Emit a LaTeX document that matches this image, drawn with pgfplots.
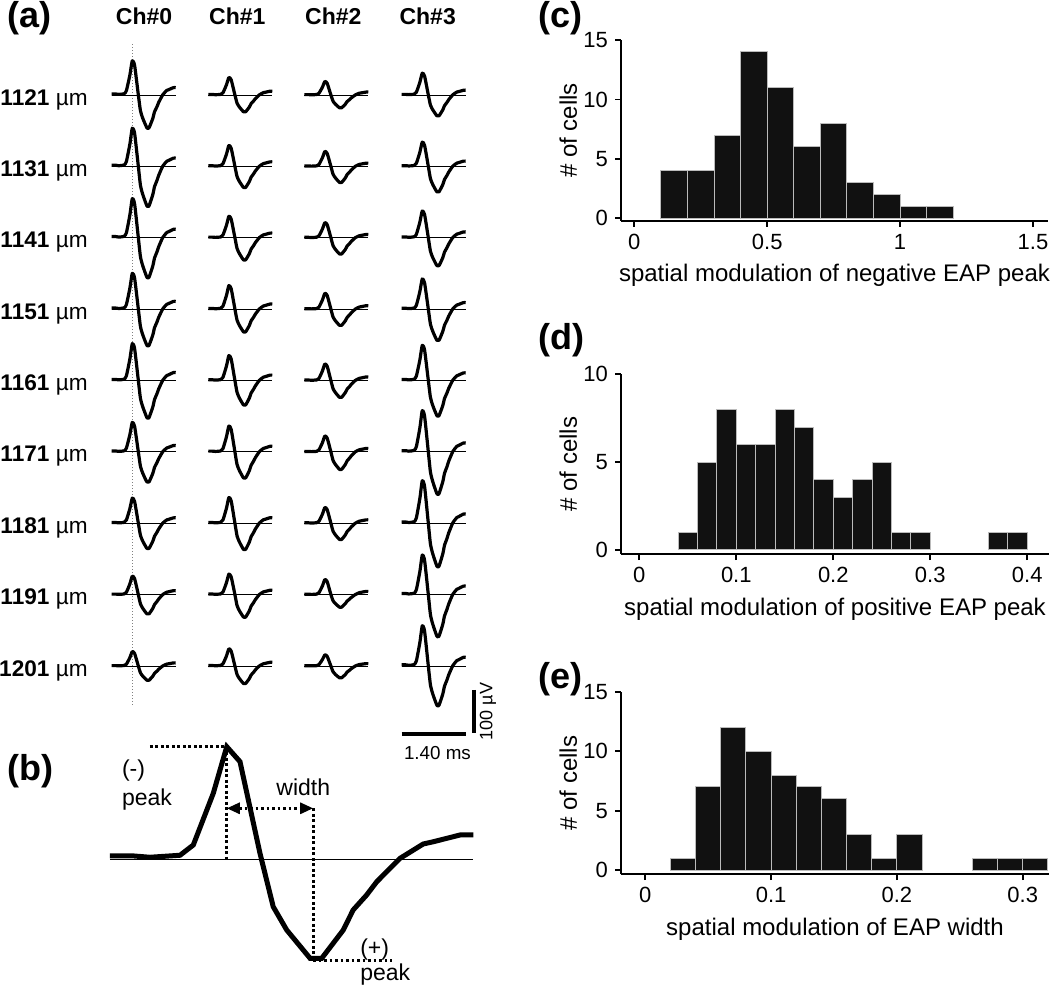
\documentclass[border=0pt]{standalone}
\usepackage{fontspec}
\setmainfont{Liberation Sans}
\usepackage{pgfplots}
\usepackage{pgfplotstable}
\pgfplotsset{compat=1.18}
\usetikzlibrary{arrows.meta}

\definecolor{barfill}{HTML}{111111}
\definecolor{baredge}{HTML}{BBBBBB}

% template spike (panel b), t in ms, v normalised to the (-) peak
\pgfplotstableread{
t v
0 0.03
0.09 0.03
0.154 0.018
0.27 0.036
0.321 0.127
0.398 0.586
0.45 1.0
0.501 0.867
0.578 0.053
0.629 -0.421
0.681 -0.628
0.771 -0.879
0.816 -0.879
0.899 -0.628
0.937 -0.45
0.989 -0.317
1.028 -0.199
1.118 0.009
1.207 0.136
1.246 0.156
1.349 0.216
1.4 0.216
}\wavetab

\pgfplotsset{
  wave/.style={black, line width=1.6pt, line join=round, no markers, smooth, tension=0.35},
  hist/.style={
    scale only axis, anchor=south west, clip=false,
    axis x line*=bottom, axis y line*=left,
    axis line style={line width=0.9pt},
    tick align=outside, major tick length=3pt,
    every tick/.style={black, line width=0.9pt},
    tick label style={font=\fontsize{11}{13}\selectfont},
    label style={font=\fontsize{12}{14}\selectfont},
    /pgf/number format/assume math mode=true,
    xlabel style={at={(axis description cs:0.5,0)}, anchor=base, yshift=-30.5pt},
    ylabel style={at={([xshift=-26.3pt]axis description cs:0,0.5)}, anchor=center},
  },
  bars/.style={ybar, bar shift=0pt, fill=barfill, draw=baredge, line width=0.5pt},
}

% one trace: time offset, baseline, (-) peak, (+) peak  [uV]
\newcommand{\cell}[4]{%
  \draw[line width=0.5pt] (axis cs:#1,#2) -- (axis cs:{#1+1.4},#2);
  \addplot[wave] table[x expr={\thisrow{t}+#1},
    y expr={#2+(\thisrow{v}>0 ? \thisrow{v}*#3 : \thisrow{v}*#4/0.879)}] {\wavetab};
}
\newcommand{\pl}{\fontsize{18}{20}\selectfont\bfseries}
\newcommand{\rl}{\fontsize{11.3}{13}\selectfont}
\newcommand{\bl}{\fontsize{11.5}{13}\selectfont}

\begin{document}
\begin{tikzpicture}
\useasboundingbox (0,0) rectangle (525pt,493.5pt);

% ---------- (a) ----------
\begin{axis}[at={(50pt,123.5pt)}, anchor=south west, scale only axis,
  width=200pt, height=355pt, xmin=-0.256, xmax=8.495, ymin=-1500, ymax=151.2,
  hide axis, clip=false]
\draw[gray, line width=0.5pt, densely dotted] (axis cs:0.459,118.6) -- (axis cs:0.459,-1418.6);
\cell{0}{0}{79.5}{76.3}     \cell{2.113}{0}{40.7}{39.1}    \cell{4.213}{0}{31.4}{29.8}    \cell{6.344}{0}{50.7}{48.4}
\cell{0}{-166}{88.8}{91.9}  \cell{2.113}{-166}{48.6}{49.1} \cell{4.213}{-166}{34.7}{37.4} \cell{6.344}{-166}{56.3}{59.3}
\cell{0}{-332}{90.9}{91.9}  \cell{2.113}{-332}{50}{51.6}   \cell{4.213}{-332}{35.1}{37.7} \cell{6.344}{-332}{62.3}{64.9}
\cell{0}{-498}{83.3}{84.2}  \cell{2.113}{-498}{54.7}{53}   \cell{4.213}{-498}{36.7}{37.7} \cell{6.344}{-498}{70.2}{72.6}
\cell{0}{-664}{85.8}{86.3}  \cell{2.113}{-664}{57.9}{57}   \cell{4.213}{-664}{38.4}{39.1} \cell{6.344}{-664}{81.9}{81.6}
\cell{0}{-830}{68.6}{70}    \cell{2.113}{-830}{60.2}{60.7} \cell{4.213}{-830}{37}{40.7}   \cell{6.344}{-830}{95.8}{97.2}
\cell{0}{-996}{58.4}{58.6}  \cell{2.113}{-996}{60}{60.9}   \cell{4.213}{-996}{36.7}{37.7} \cell{6.344}{-996}{98.8}{99.8}
\cell{0}{-1162}{43}{44.7}   \cell{2.113}{-1162}{47.7}{52.3} \cell{4.213}{-1162}{35.1}{29.1} \cell{6.344}{-1162}{91.9}{96.5}
\cell{0}{-1328}{33.7}{33}   \cell{2.113}{-1328}{40}{40.7}  \cell{4.213}{-1328}{26}{27.4}  \cell{6.344}{-1328}{93.5}{91.2}
% scale bars
\addplot[black, line width=2pt] coordinates {(7.933,-1383.7) (7.933,-1484.4)};
\addplot[black, line width=2pt] coordinates {(6.344,-1486.7) (7.744,-1486.7)};
\node[anchor=base, inner sep=0, font=\fontsize{9.4}{11}\selectfont] at (axis cs:7.127,-1544.9) {1.40 ms};
\node[rotate=90, inner sep=0, font=\fontsize{9}{11}\selectfont] at (axis cs:8.232,-1434) {100 µV};
% channel and depth labels
\node[anchor=base, inner sep=0, font=\bl\bfseries] at (axis cs:0.707,163) {Ch\#0};
\node[anchor=base, inner sep=0, font=\bl\bfseries] at (axis cs:2.748,163) {Ch\#1};
\node[anchor=base, inner sep=0, font=\bl\bfseries] at (axis cs:4.848,163) {Ch\#2};
\node[anchor=base, inner sep=0, font=\bl\bfseries] at (axis cs:6.913,163) {Ch\#3};
\node[anchor=base east, inner sep=0, font=\rl] at (axis cs:-0.518,-23.3) {\textbf{1121} µm};
\node[anchor=base east, inner sep=0, font=\rl] at (axis cs:-0.518,-189.3) {\textbf{1131} µm};
\node[anchor=base east, inner sep=0, font=\rl] at (axis cs:-0.518,-355.3) {\textbf{1141} µm};
\node[anchor=base east, inner sep=0, font=\rl] at (axis cs:-0.518,-521.3) {\textbf{1151} µm};
\node[anchor=base east, inner sep=0, font=\rl] at (axis cs:-0.518,-687.3) {\textbf{1161} µm};
\node[anchor=base east, inner sep=0, font=\rl] at (axis cs:-0.518,-853.3) {\textbf{1171} µm};
\node[anchor=base east, inner sep=0, font=\rl] at (axis cs:-0.518,-1019.3) {\textbf{1181} µm};
\node[anchor=base east, inner sep=0, font=\rl] at (axis cs:-0.518,-1185.3) {\textbf{1191} µm};
\node[anchor=base east, inner sep=0, font=\rl] at (axis cs:-0.518,-1351.3) {\textbf{1201} µm};
\end{axis}

% ---------- (b) ----------
\begin{axis}[at={(50pt,0pt)}, anchor=south west, scale only axis,
  width=200pt, height=123.5pt, xmin=-0.0385, xmax=1.5029, ymin=-1.1341, ymax=1.0595,
  hide axis, clip=false]
\draw[line width=0.5pt] (axis cs:0,0) -- (axis cs:1.4,0);
\addplot[black, line width=2.5pt, no markers] table {\wavetab};
\begin{scope}[line width=1.4pt, dash pattern=on 1.4pt off 1.35pt]
\draw (axis cs:0.154,1.0) -- (axis cs:0.45,1.0);
\draw (axis cs:0.45,1.0) -- (axis cs:0.45,0);
\draw (axis cs:0.783,0.453) -- (axis cs:0.783,-0.879);
\draw (axis cs:0.783,-0.9) -- (axis cs:1.085,-0.9);
\draw[{Triangle[length=6.5pt,width=5.5pt]}-{Triangle[length=6.5pt,width=5.5pt]}]
  (axis cs:0.45,0.453) -- (axis cs:0.783,0.453);
\end{scope}
\node[anchor=base west, inner sep=0, font=\bl] at (axis cs:0.64,0.571) {width};
\node[anchor=base west, inner sep=0, font=\bl] at (axis cs:0.045,0.731) {(-)};
\node[anchor=base west, inner sep=0, font=\bl] at (axis cs:0.045,0.482) {peak};
\node[anchor=base west, inner sep=0, font=\bl] at (axis cs:0.963,-0.853) {(+)};
\node[anchor=base west, inner sep=0, font=\bl] at (axis cs:0.963,-1.072) {peak};
\end{axis}

% ---------- (c) ----------
\begin{axis}[hist, at={(310.5pt,383pt)}, width=213.5pt, height=90.5pt,
  xmin=-0.05, xmax=1.5564, ymin=-0.227, ymax=15,
  xtick={0,0.5,1,1.5}, ytick={0,5,10,15},
  xlabel={spatial modulation of negative EAP peak}, ylabel={\# of cells}]
\addplot[bars, bar width=0.1] coordinates {(0.15,4) (0.25,4) (0.35,7) (0.45,14) (0.55,11)
  (0.65,6) (0.75,8) (0.85,3) (0.95,2) (1.05,1) (1.15,1)};
\end{axis}

% ---------- (d) ----------
\begin{axis}[hist, at={(310.5pt,216.5pt)}, width=214pt, height=89.85pt,
  xmin=-0.01887, xmax=0.4224, ymin=-0.228, ymax=10,
  xtick={0,0.1,0.2,0.3,0.4}, ytick={0,5,10},
  xlabel={spatial modulation of positive EAP peak}, ylabel={\# of cells}]
\addplot[bars, bar width=0.02] coordinates {(0.05,1) (0.07,5) (0.09,8) (0.11,6) (0.13,6)
  (0.15,8) (0.17,7) (0.19,4) (0.21,3) (0.23,4) (0.25,5) (0.27,1) (0.29,1) (0.37,1) (0.39,1)};
\end{axis}

% ---------- (e) ----------
\begin{axis}[hist, at={(310.5pt,56.5pt)}, width=214pt, height=91pt,
  xmin=-0.0193, xmax=0.3209, ymin=-0.337, ymax=15,
  xtick={0,0.1,0.2,0.3}, ytick={0,5,10,15},
  xlabel={spatial modulation of EAP width}, ylabel={\# of cells}]
\addplot[bars, bar width=0.02] coordinates {(0.03,1) (0.05,7) (0.07,12) (0.09,10) (0.11,8)
  (0.13,7) (0.15,6) (0.17,3) (0.19,1) (0.21,3) (0.27,1) (0.29,1) (0.31,1)};
\end{axis}

% panel letters
\node[anchor=west, inner sep=0, font=\pl] at (3.35pt,484.5pt) {(a)};
\node[anchor=west, inner sep=0, font=\pl] at (3.35pt,108pt) {(b)};
\node[anchor=west, inner sep=0, font=\pl] at (269.15pt,484.5pt) {(c)};
\node[anchor=west, inner sep=0, font=\pl] at (269.15pt,323.5pt) {(d)};
\node[anchor=west, inner sep=0, font=\pl] at (269.15pt,154pt) {(e)};
\end{tikzpicture}
\end{document}
